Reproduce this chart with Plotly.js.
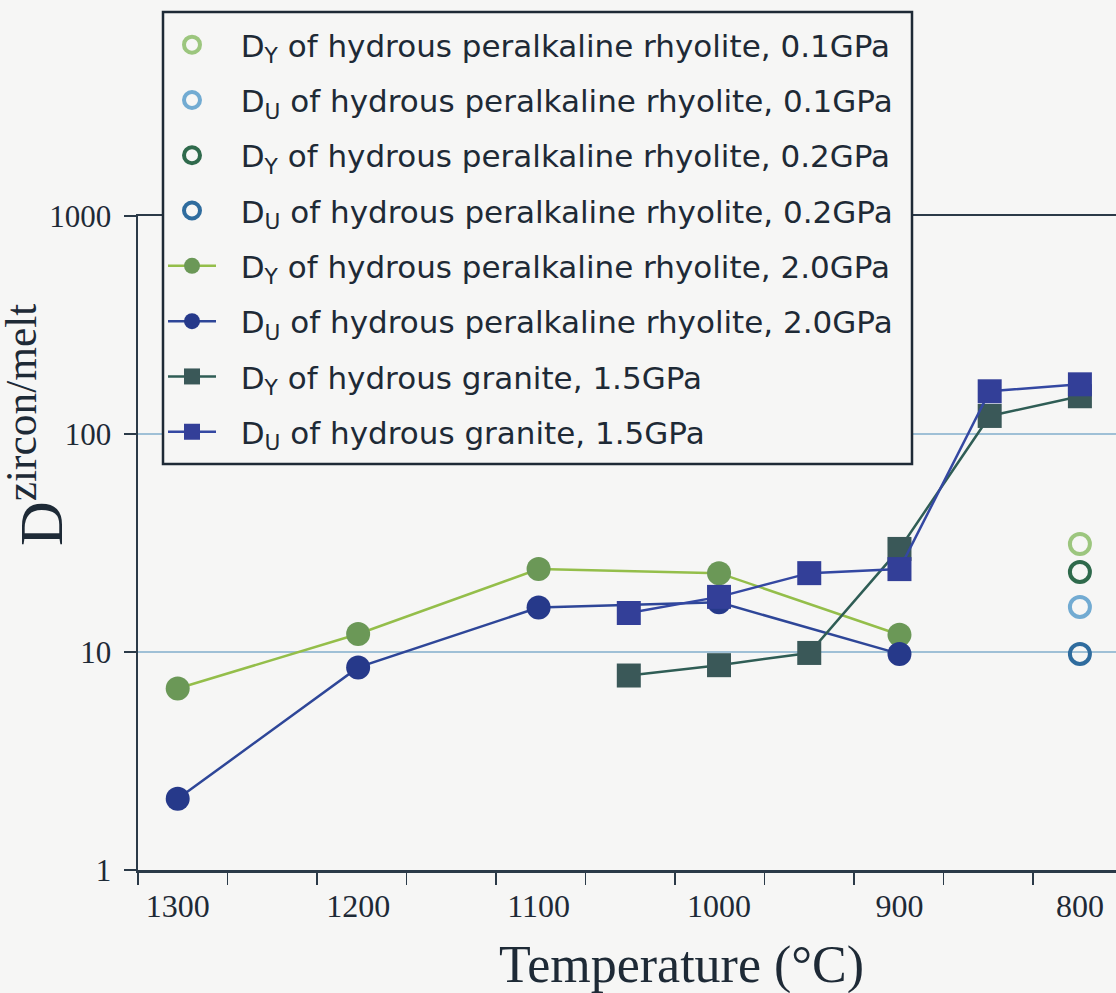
<!DOCTYPE html>
<html>
<head>
<meta charset="utf-8">
<script src="https://cdn.plot.ly/plotly-3.0.1.min.js"></script>
<style>html,body{margin:0;padding:0;background:#f6f6f5;}</style>
</head>
<body>
<div id="chart" style="width:1116px;height:993px;"></div>
<script>
// Temperatures (°C)
const tRhyolite = [1300, 1200, 1100, 1000, 900];
const tGranite = [1050, 1000, 950, 900, 850, 800];
const tLowP = [800];

// 2.0 GPa peralkaline rhyolite
const dY_rhy20 = [6.8, 12.1, 24.0, 23.0, 12.0];
const dU_rhy20 = [2.12, 8.5, 16.0, 16.9, 9.8];
// 1.5 GPa granite
const dY_gra15 = [7.8, 8.7, 9.9, 29.7, 121, 149];
const dU_gra15 = [15.1, 17.9, 23.0, 24.0, 157, 169];
// 0.1 and 0.2 GPa rhyolite at 800 °C
const dY_rhy01 = [31.3];
const dU_rhy01 = [16.1];
const dY_rhy02 = [23.3];
const dU_rhy02 = [9.8];

const pad = '\u00A0\u00A0';
const names = [
  'D<sub>Y</sub> of hydrous peralkaline rhyolite, 0.1GPa',
  'D<sub>U</sub> of hydrous peralkaline rhyolite, 0.1GPa',
  'D<sub>Y</sub> of hydrous peralkaline rhyolite, 0.2GPa',
  'D<sub>U</sub> of hydrous peralkaline rhyolite, 0.2GPa',
  'D<sub>Y</sub> of hydrous peralkaline rhyolite, 2.0GPa',
  'D<sub>U</sub> of hydrous peralkaline rhyolite, 2.0GPa',
  'D<sub>Y</sub> of hydrous granite, 1.5GPa',
  'D<sub>U</sub> of hydrous granite, 1.5GPa'
];
const xTickVals = [1300, 1200, 1100, 1000, 900, 800];
const yTickVals = [1, 10, 100, 1000];
const yTickText = ['1', '10', '100', '1000'];

function openC(x, y, name, color, g) {
  return {x: x, y: y, name: pad + name, legendgroup: g, type: 'scatter', mode: 'markers',
    marker: {symbol: 'circle-open', size: 20, color: color, line: {width: 4, color: color}}};
}
function lineM(x, y, name, lcolor, mcolor, sym, size, g) {
  return {x: x, y: y, name: pad + name, legendgroup: g, type: 'scatter', mode: 'lines+markers',
    line: {color: lcolor, width: 2.5},
    marker: {symbol: sym, size: size, color: mcolor}};
}

const traces = [
  openC(tLowP, dY_rhy01, names[0], '#9cc67e', 'a'),
  openC(tLowP, dU_rhy01, names[1], '#72abd2', 'b'),
  openC(tLowP, dY_rhy02, names[2], '#2f6a4c', 'c'),
  openC(tLowP, dU_rhy02, names[3], '#2f6c9e', 'd'),
  lineM(tRhyolite, dY_rhy20, names[4], '#94be4a', '#6b9857', 'circle', 24, 'e'),
  lineM(tRhyolite, dU_rhy20, names[5], '#2e4698', '#26398a', 'circle', 24, 'f'),
  lineM(tGranite, dY_gra15, names[6], '#2f5d55', '#3a5858', 'square', 24, 'g'),
  lineM(tGranite, dU_gra15, names[7], '#3448a2', '#333f98', 'square', 24, 'h')
];

const axisColor = '#2b3a48';
const textColor = '#1e2a36';
const bg = '#f6f6f5';
const serif = '"Liberation Serif", "Times New Roman", serif';

// pixel -> paper helpers for the 138..1116 x 216..870 plot box
const px = v => (v - 138) / 978;
const py = v => (870 - v) / 654;

const layout = {
  width: 1116, height: 993,
  paper_bgcolor: bg, plot_bgcolor: bg,
  margin: {l: 138, r: 0, t: 216, b: 123},
  showlegend: true,
  legend: {
    x: px(163), y: py(18), xanchor: 'left', yanchor: 'top',
    bgcolor: 'rgba(0,0,0,0)', borderwidth: 0,
    font: {family: '"DejaVu Sans", sans-serif', size: 31, color: textColor},
    tracegroupgap: 12, itemwidth: 48
  },
  shapes: [{
    type: 'rect', xref: 'paper', yref: 'paper', layer: 'above',
    x0: px(163), x1: px(912), y0: py(464), y1: py(12),
    fillcolor: bg, line: {color: textColor, width: 2.5}
  }],
  xaxis: {
    range: [1322, 780], showgrid: false, zeroline: false,
    showline: true, linecolor: axisColor, linewidth: 2.5, mirror: true,
    tickmode: 'array', tickvals: xTickVals, ticks: '',
    ticklabelstandoff: 6,
    tickfont: {family: serif, size: 32, color: textColor},
    minor: {tick0: 1322, dtick: 49.6, ticks: 'outside', ticklen: 12, tickcolor: axisColor, tickwidth: 1.5, showgrid: false}
  },
  yaxis: {
    type: 'log', range: [0, 3], zeroline: false,
    showline: true, linecolor: axisColor, linewidth: 2.5,
    showgrid: true, gridcolor: '#9fc0d6', gridwidth: 1.2,
    tickmode: 'array', tickvals: yTickVals, ticktext: yTickText,
    ticks: 'outside', ticklen: 12, tickwidth: 1.5, tickcolor: axisColor,
    ticklabelstandoff: 6,
    tickfont: {family: serif, size: 31, color: textColor}
  },
  annotations: [
    {
      xref: 'paper', yref: 'paper', x: px(681), y: py(965),
      xanchor: 'center', yanchor: 'middle',
      text: 'Temperature (°C)', showarrow: false,
      font: {family: serif, size: 52, color: textColor}
    },
    {
      xref: 'paper', yref: 'paper', x: px(36), y: py(425),
      xanchor: 'center', yanchor: 'middle', textangle: -90,
      text: 'D<sup>zircon/melt</sup>', showarrow: false,
      font: {family: serif, size: 62, color: textColor}
    }
  ]
};

Plotly.newPlot('chart', traces, layout, {displayModeBar: false, staticPlot: true});
</script>
</body>
</html>
